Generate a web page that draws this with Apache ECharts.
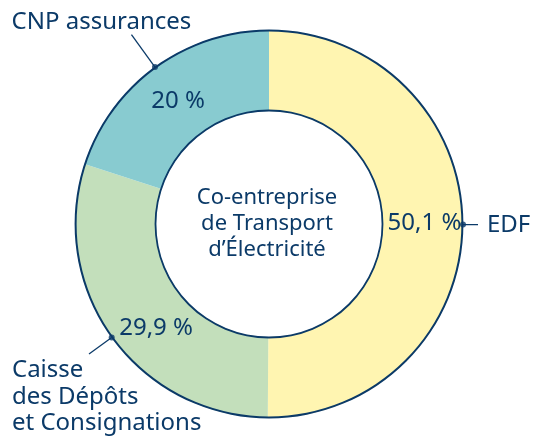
<!DOCTYPE html>
<html>
<head>
<meta charset="utf-8">
<script src="https://cdn.jsdelivr.net/npm/echarts@6/dist/echarts.min.js"></script>
<style>html,body{margin:0;padding:0;background:#fff;}#c{width:547px;height:440px;}</style>
</head>
<body>
<div id="c"></div>
<script>
// ---- data ----
const categories = ['EDF', 'Caisse des Dépôts et Consignations', 'CNP assurances'];
const labelNames = ['EDF', 'Caisse\ndes Dépôts\net Consignations', 'CNP assurances'];
const shares = [50.1, 29.9, 20];
const centerTitle = 'Co-entreprise\nde Transport\nd’Électricité';

// ---- style ----
const NAVY = '#0b3a68';
const colors = ['#fff5b1', '#c3dfbb', '#88cbd0'];
const FONT = 'Noto Sans';
const CX = 269, CY = 224, R_OUT = 194, R_IN = 113;
const lineLens = [15, 28, 40];
const insideNudge = [[-1, -1], [14, 13], [1, 4]];

const total = shares.reduce((a, b) => a + b, 0);
let acc = 0;
const mids = shares.map(v => { const m = acc + v / 2; acc += v; return m; });

const fmt = v => String(v).replace('.', ',') + ' %';

const chart = echarts.init(document.getElementById('c'), null, {renderer: 'canvas'});
chart.setOption({
  animation: false,
  title: {
    text: centerTitle,
    left: 262, top: 180,
    textAlign: 'center',
    textStyle: {fontFamily: FONT, fontSize: 22, fontWeight: 'normal', color: NAVY, lineHeight: 26}
  },
  polar: {center: [CX, CY], radius: R_OUT},
  angleAxis: {type: 'value', min: 0, max: total, startAngle: 90, clockwise: true,
    axisLine: {show: false}, axisTick: {show: false}, axisLabel: {show: false}, splitLine: {show: false}},
  radiusAxis: {type: 'value', min: 0, max: 1,
    axisLine: {show: false}, axisTick: {show: false}, axisLabel: {show: false}, splitLine: {show: false}},
  series: [
    {
      type: 'pie', center: [CX, CY], radius: [R_IN, R_OUT], startAngle: 90, clockwise: true,
      avoidLabelOverlap: false, silent: true,
      data: categories.map((c, i) => ({name: c, value: shares[i], itemStyle: {color: colors[i]}})),
      label: {show: true, position: 'inside', formatter: p => fmt(p.value),
        fontFamily: FONT, fontSize: 24, color: NAVY},
      labelLine: {show: false},
      labelLayout: p => ({dx: insideNudge[p.dataIndex][0], dy: insideNudge[p.dataIndex][1]})
    },
    {
      type: 'pie', center: [CX, CY], radius: [R_IN, R_OUT], startAngle: 90, clockwise: true,
      avoidLabelOverlap: false, silent: true, z: 3,
      itemStyle: {color: 'rgba(0,0,0,0)'},
      data: categories.map((c, i) => ({name: c, value: shares[i],
        labelLine: {length: lineLens[i], length2: 0}})),
      label: {show: true, position: 'outside', formatter: p => labelNames[p.dataIndex],
        fontFamily: FONT, fontSize: 24, color: NAVY, lineHeight: 26.5},
      labelLine: {show: true, lineStyle: {color: NAVY, width: 1.3}},
      labelLayout: function (p) {
        const pts = p.labelLinePoints;
        if (!pts) return {};
        const e = pts[pts.length - 1];
        if (p.dataIndex === 0) {
          return {x: e[0] + 9, y: e[1], align: 'left', verticalAlign: 'middle', labelLinePoints: pts};
        } else if (p.dataIndex === 1) {
          return {x: e[0] - 77, y: e[1] + 3, align: 'left', verticalAlign: 'top', labelLinePoints: pts};
        } else {
          return {x: e[0] - 30, y: e[1] - 13, align: 'center', verticalAlign: 'middle', labelLinePoints: pts};
        }
      }
    },
    {
      type: 'pie', center: [CX, CY], radius: [R_OUT - 1.6, R_OUT + 0.4], silent: true, z: 4,
      data: [{value: total, itemStyle: {color: NAVY}}], label: {show: false}, labelLine: {show: false}
    },
    {
      type: 'pie', center: [CX, CY], radius: [R_IN - 0.4, R_IN + 1.4], silent: true, z: 4,
      data: [{value: total, itemStyle: {color: NAVY}}], label: {show: false}, labelLine: {show: false}
    },
    {
      type: 'scatter', coordinateSystem: 'polar', z: 10, silent: true,
      symbol: 'circle', symbolSize: 6, itemStyle: {color: NAVY},
      data: mids.map(m => [1, m])
    }
  ]
});
</script>
</body>
</html>
